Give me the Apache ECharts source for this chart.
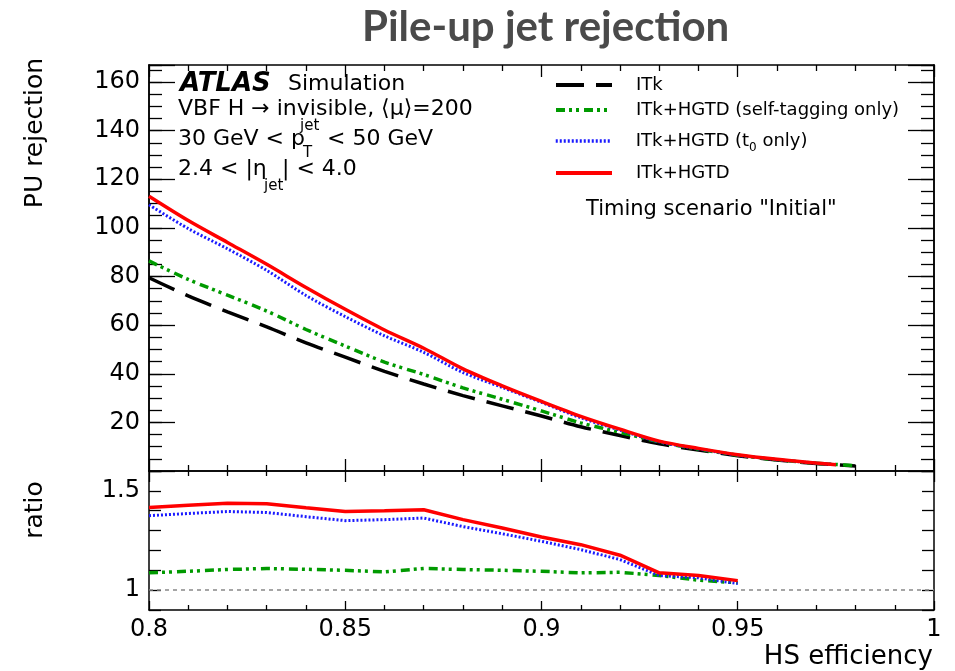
<!DOCTYPE html>
<html>
<head>
<meta charset="UTF-8">
<title>Pile-up jet rejection</title>
<script src="https://cdn.jsdelivr.net/npm/echarts@6/dist/echarts.min.js"></script>
<style>
    html, body { margin: 0; padding: 0; background: #ffffff; }
    #main { width: 955px; height: 671px; }
</style>
</head>
<body>
<div id="main"></div>
<script>
// upper panel: PU rejection vs HS efficiency
var effTop = [0.80, 0.81, 0.82, 0.83, 0.84, 0.85, 0.86, 0.87, 0.88, 0.89,
              0.90, 0.91, 0.92, 0.93, 0.94, 0.95, 0.96, 0.97, 0.975, 0.98];
var rejITk     = [79.5, 72.0, 65.5, 59.3, 52.7, 46.8, 41.0, 35.8, 31.0, 26.8,
                  22.6, 18.2, 14.6, 11.2, 8.6, 6.3, 4.5, 3.1, 2.6, 2.1];
var rejSelfTag = [86.4, 78.8, 72.3, 65.8, 58.2, 51.4, 44.8, 39.7, 34.2, 29.5,
                  24.7, 19.8, 15.9, 12.0, 9.0, 6.5, 4.6, 3.2, 2.7, 2.2];
var rejT0      = [109.5, 99.7, 91.4, 82.5, 72.2, 63.5, 55.6, 48.8, 40.5, 34.4,
                  28.2, 21.9, 16.8, 12.0, 9.1, 6.5, 4.7, 3.2, 2.6, null];
var rejHGTD    = [113.0, 103.0, 94.0, 85.0, 75.5, 66.5, 58.0, 50.5, 42.0, 35.0,
                  28.6, 22.5, 17.2, 12.3, 9.3, 6.7, 4.8, 3.3, 2.6, null];

// lower panel: ratio to ITk
var effRatio = [0.80, 0.81, 0.82, 0.83, 0.84, 0.85, 0.86, 0.87,
                0.88, 0.89, 0.90, 0.91, 0.92, 0.93, 0.94, 0.95];
var ratioSelfTag = [1.087, 1.095, 1.104, 1.109, 1.105, 1.100, 1.092, 1.109,
                    1.104, 1.100, 1.095, 1.087, 1.090, 1.074, 1.050, 1.037];
var ratioT0      = [1.375, 1.386, 1.396, 1.391, 1.370, 1.350, 1.355, 1.363,
                    1.320, 1.284, 1.246, 1.204, 1.154, 1.074, 1.062, 1.033];
var ratioHGTD    = [1.416, 1.427, 1.438, 1.435, 1.415, 1.396, 1.400, 1.405,
                    1.355, 1.313, 1.268, 1.229, 1.176, 1.087, 1.074, 1.048];

var seriesNames = ['ITk', 'ITk+HGTD (self-tagging only)', 'ITk+HGTD (t0 only)', 'ITk+HGTD'];
var yLabelsTop = [20, 40, 60, 80, 100, 120, 140, 160];
var yLabelsRatio = [1, 1.5];

function pairs(xs, ys) {
    return xs.map(function (x, i) { return [x, ys[i]]; });
}

var FONT = 'DejaVu Sans';
var styles = [
    { color: '#000000', width: 3.5, type: [28, 12] },
    { color: '#009a00', width: 3.5, type: [9, 4, 3, 4, 3, 5] },
    { color: '#1a1aff', width: 3, type: [2, 2] },
    { color: '#ff0000', width: 3.5, type: 'solid' }
];
var topData = [rejITk, rejSelfTag, rejT0, rejHGTD];
var ratioData = [null, ratioSelfTag, ratioT0, ratioHGTD];

var series = [];
seriesNames.forEach(function (name, i) {
    series.push({
        name: name, type: 'line', xAxisIndex: 0, yAxisIndex: 0,
        data: pairs(effTop, topData[i]), smooth: 0.3, symbol: 'none',
        lineStyle: styles[i], itemStyle: { color: styles[i].color }
    });
});
seriesNames.forEach(function (name, i) {
    if (!ratioData[i]) return;
    var s = {
        name: name, type: 'line', xAxisIndex: 2, yAxisIndex: 4,
        data: pairs(effRatio, ratioData[i]), symbol: 'none',
        lineStyle: styles[i], itemStyle: { color: styles[i].color }
    };
    if (i === 3) {
        s.markLine = {
            silent: true, symbol: 'none', label: { show: false },
            lineStyle: { color: '#888888', type: [4, 4], width: 1.5 },
            data: [{ yAxis: 1 }]
        };
    }
    series.push(s);
});

function xAx(grid, pos, showLabel, len, minorLen) {
    return {
        type: 'value', gridIndex: grid, position: pos, min: 0.8, max: 1, interval: 0.05,
        axisLine: { show: true, onZero: false, lineStyle: { color: '#000', width: 1.5 } },
        axisTick: { show: true, inside: true, length: len, lineStyle: { color: '#000', width: 1.3 } },
        minorTick: { show: true, splitNumber: 5, length: minorLen, lineStyle: { color: '#000', width: 1.3 } },
        splitLine: { show: false },
        axisLabel: { show: showLabel, fontFamily: FONT, fontSize: 24, color: '#000', margin: 8 }
    };
}
function yAx(grid, pos, min, max, interval, len, showLabel, fmt) {
    return {
        type: 'value', gridIndex: grid, position: pos, min: min, max: max, interval: interval,
        axisLine: { show: true, onZero: false, lineStyle: { color: '#000', width: 1.5 } },
        axisTick: { show: true, inside: true, length: len, lineStyle: { color: '#000', width: 1.3 } },
        splitLine: { show: false },
        axisLabel: { show: showLabel, fontFamily: FONT, fontSize: 24, color: '#000', margin: 9, formatter: fmt }
    };
}
function fmtTop(v) {
    return yLabelsTop.indexOf(Math.round(v)) >= 0 && Math.abs(v - Math.round(v)) < 1e-6 ? String(Math.round(v)) : '';
}
function fmtRatio(v) {
    for (var k = 0; k < yLabelsRatio.length; k++) {
        if (Math.abs(v - yLabelsRatio[k]) < 1e-6) return String(yLabelsRatio[k]);
    }
    return '';
}

var rows = [82, 107, 138, 170];
var legends = seriesNames.map(function (name, i) {
    return {
        data: [name], left: 549, top: rows[i] - 11, orient: 'vertical',
        itemWidth: 56, itemHeight: 14, selectedMode: false,
        itemStyle: { opacity: 0 },
        lineStyle: { width: styles[i].width + 0.5 },
        formatter: function (n) {
            return n === seriesNames[2] ? '{a|ITk+HGTD (t}{s|0}{a| only)}' : '{a|' + n + '}';
        },
        textStyle: {
            padding: [0, 0, 0, 19],
            rich: {
                a: { fontFamily: FONT, fontSize: 18, color: '#000', lineHeight: 22 },
                s: { fontFamily: FONT, fontSize: 12, color: '#000', padding: [14, 0, 0, 0] }
            }
        }
    };
});

var txt = function (text, x, y, size, extra) {
    var st = { text: text, x: 0, y: 0, fontFamily: FONT, fontSize: size, fill: '#000', verticalAlign: 'middle' };
    for (var k in extra) st[k] = extra[k];
    return { type: 'text', x: x, y: y, style: st, silent: true };
};

var option = {
    animation: false,
    backgroundColor: '#ffffff',
    title: {
        text: 'Pile-up jet rejection', left: 357, top: 1,
        textStyle: { fontFamily: 'Lato', fontWeight: 'bold', fontSize: 42, color: '#4a4a4a' }
    },
    legend: legends,
    grid: [
        { left: 149, top: 65, width: 785, height: 406 },
        { left: 149, top: 471, width: 785, height: 139 }
    ],
    xAxis: [
        xAx(0, 'bottom', false, 12, 6),
        xAx(0, 'top', false, 12, 6),
        xAx(1, 'bottom', true, 9, 5),
        xAx(1, 'top', false, 11, 5)
    ],
    yAxis: [
        yAx(0, 'left', 0, 167, 20, 26, true, fmtTop),
        yAx(0, 'left', 0, 167, 5, 13, false),
        yAx(0, 'right', 0, 167, 20, 26, false),
        yAx(0, 'right', 0, 167, 5, 13, false),
        yAx(1, 'left', 0.9, 1.6, 0.1, 12, true, fmtRatio),
        yAx(1, 'right', 0.9, 1.6, 0.1, 12, false)
    ],
    series: series,
    graphic: [
        txt('PU rejection', 35, 133, 25, { align: 'center' }),
        txt('ratio', 35, 510, 25, { align: 'center' }),
        txt('HS efficiency', 933, 657, 26, { align: 'right' }),
        txt('ATLAS', 180, 84, 26, { fontWeight: 'bold', fontStyle: 'italic' }),
        txt('Simulation', 288, 84, 22),
        txt('VBF H \u2192 invisible, \u27e8\u03bc\u27e9=200', 178, 109, 22),
        txt('30 GeV < p', 178, 139, 22),
        txt('jet', 300, 126, 15),
        txt('T', 303, 153, 15),
        txt('< 50 GeV', 327, 139, 22),
        txt('2.4 < |\u03b7', 178, 169, 22),
        txt('jet', 264, 186, 15),
        txt('| < 4.0', 282, 169, 22),
        txt('Timing scenario "Initial"', 586, 210, 21)
    ]
};
// rotate the y-axis titles
option.graphic[0].rotation = Math.PI / 2;
option.graphic[1].rotation = Math.PI / 2;

var chart = echarts.init(document.getElementById('main'));
chart.setOption(option);
</script>
</body>
</html>
